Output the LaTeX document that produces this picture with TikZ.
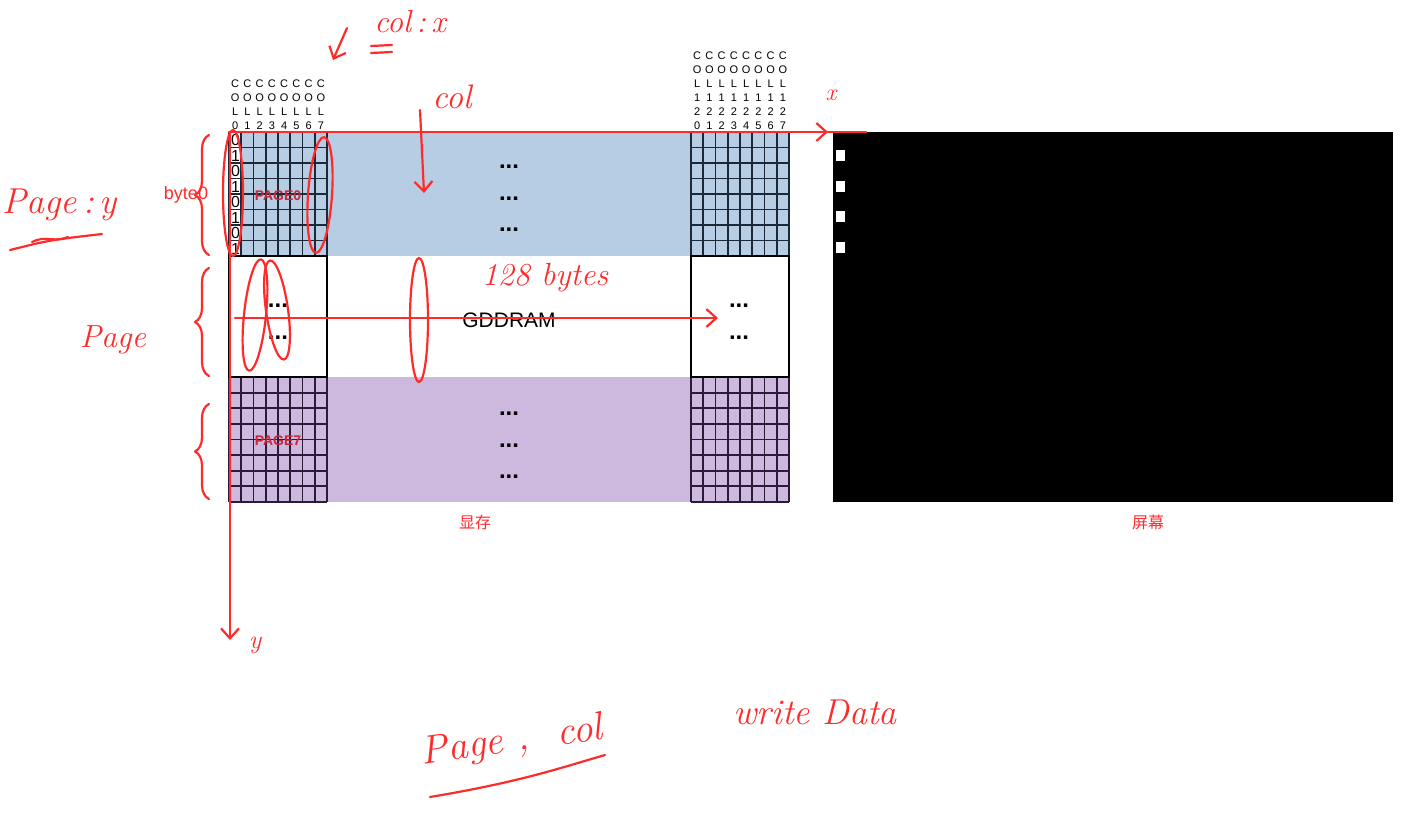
\documentclass[tikz,border=0pt]{standalone}
\usepackage{fontspec}
\setsansfont{Liberation Sans}
\newfontfamily\cjk{Noto Sans CJK SC}
\usetikzlibrary{arrows.meta,decorations.pathreplacing,positioning}
\definecolor{memblue}{HTML}{B7CDE4}
\definecolor{mempurple}{HTML}{CDB8DE}
\definecolor{gridblue}{HTML}{1B2838}
\definecolor{gridpurple}{HTML}{2B1B36}
\definecolor{inkred}{HTML}{FF2B2B}
\definecolor{pagered}{HTML}{C8283C}
\begin{document}
\begin{tikzpicture}[x=0.5pt,y=-0.5pt,>=stealth,
  ink/.style={draw=inkred,line width=1.1pt,line cap=round,line join=round},
  inkarrow/.style={ink,-{Straight Barb[length=5pt,width=9pt]}},
  handtext/.style={text=inkred,font=\itshape\fontsize{16}{16}\selectfont,inner sep=0pt},
  dots/.style={font=\sffamily\bfseries\fontsize{12}{12}\selectfont,inner sep=0pt,anchor=base},
  collabel/.style={font=\sffamily\fontsize{5.5}{7}\selectfont,align=center,inner sep=0pt,anchor=south},
  bit/.style={font=\sffamily\fontsize{8}{8}\selectfont,inner sep=0pt},
  pagelabel/.style={text=pagered,font=\sffamily\bfseries\fontsize{7}{7}\selectfont,inner sep=0pt},
  memtext/.style={text=inkred,font=\cjk\fontsize{8}{8}\selectfont,inner sep=0pt},
  gridline/.style={line width=0.9pt},
  brace/.style={ink,decorate,decoration={brace,amplitude=7pt}}]
\useasboundingbox (0,0) rectangle (1410,831);

% GDDRAM
\fill[memblue] (229,132) rectangle (789,256);
\fill[mempurple] (229,377) rectangle (789,502);
\fill[white] (229,132) rectangle (241.25,256);
\foreach \gx in {229,691}{
  \foreach \i in {0,...,8}{
    \draw[gridline,gridblue] (\gx+\i*12.25,132) -- (\gx+\i*12.25,256);
    \draw[gridline,gridpurple] (\gx+\i*12.25,377) -- (\gx+\i*12.25,502);
    \draw[gridline,gridblue] (\gx,132+\i*15.5) -- (\gx+98,132+\i*15.5);
    \draw[gridline,gridpurple] (\gx,377+\i*15.625) -- (\gx+98,377+\i*15.625);
  }
}
\draw[gridline] (229,256) rectangle (327,377);
\draw[gridline] (691,256) rectangle (789,377);

\foreach \j/\b in {0/0,1/1,2/0,3/1,4/0,5/1,6/0,7/1}
  \node[bit] (bit\j) at (235.5,132+\j*15.5+8) {\b};

\foreach \i in {0,...,7}{
  \node[collabel] (lcol\i) at (229+\i*12.25+6.1,130) {C\\O\\L\\\i};
  \node[collabel] (rcol\i) at (691+\i*12.25+6.1,130) {C\\O\\L\\1\\2\\\i};
}

\node[pagelabel] (page0) at (278,196) {PAGE0};
\node[pagelabel] (page7) at (278,441) {PAGE7};
\node[font=\sffamily\fontsize{10.5}{10.5}\selectfont,inner sep=0pt] (gddram) at (509,320) {GDDRAM};

\foreach \k/\yy in {1/168,2/200,3/231}{
  \node[dots] (topdots\k) at (509,\yy) {...};
  \node[dots] (botdots\k) at (509,\yy+247) {...};
}
\foreach \k/\yy in {1/307,2/339}{
  \node[dots] (ldots\k) at (278,\yy) {...};
  \node[dots] (rdots\k) at (739,\yy) {...};
}
\node[memtext] (memlbl) at (475,522) {显存};

% screen
\node[fill=black,inner sep=0pt,minimum width=280pt,minimum height=185pt,anchor=north west] (screen) at (833,132) {};
\foreach \yy in {150,181,211,242}
  \fill[white] (836,\yy) rectangle (845,\yy+11);
\node[memtext] (screenlbl) at (1148,522) {屏幕};

% annotations
\node[text=inkred,font=\sffamily\fontsize{9}{9}\selectfont,inner sep=0pt] (byte0) at (186,195) {byte0};
\coordinate (org) at (229,132);
\coordinate (xtip) at (828,132);
\coordinate (xend) at (866,132);
\coordinate (ytop) at (230,132);
\coordinate (ytip) at (230,640);
\draw[inkarrow] (org) -- (xtip);
\draw[ink] (xtip) -- (xend);
\draw[inkarrow] (ytop) -- (ytip);
\node[handtext,font=\itshape\fontsize{12}{12}\selectfont] (xlbl) at (831,95) {x};
\node[handtext,font=\itshape\fontsize{13}{13}\selectfont] (ylbl) at (255,645) {y};

\node[handtext] (colx) at (410,22) {col\,:\,x};
\draw[ink] (371,46) -- (392,45) (371,53) -- (392,52);
\coordinate (smalltail) at (347,28);
\coordinate (smalltip) at (333,60);
\draw[inkarrow] (smalltail) -- (smalltip);

\node[handtext,font=\itshape\fontsize{17}{17}\selectfont] (collbl) at (452,97) {col};
\coordinate (coltail) at (420,110);
\coordinate (coltip) at (424,193);
\draw[inkarrow] (coltail) -- (coltip);

\node[handtext,font=\itshape\fontsize{18}{18}\selectfont] (pagey) at (60,205) {Page\,:\,y};
\draw[ink] (10,250) .. controls (50,240) .. (102,234);
\draw[ink] (32,242) .. controls (45,235) and (55,243) .. (68,237);
\node[handtext] (pagelbl) at (113,340) {Page};

\draw[brace] (209,255) -- (209,135);
\draw[brace] (209,376) -- (209,268);
\draw[brace] (209,499) -- (209,404);

\draw[ink] (233,193) ellipse [x radius=10, y radius=63];
\draw[ink,rotate around={-4:(320,195)}] (320,195) ellipse [x radius=12, y radius=58];
\draw[ink,rotate around={-6:(255,315)}] (255,315) ellipse [x radius=11, y radius=56];
\draw[ink,rotate around={8:(277,310)}] (277,310) ellipse [x radius=11, y radius=50];
\draw[ink] (419,320) ellipse [x radius=9, y radius=62];

\coordinate (rowtail) at (235,318);
\coordinate (rowtip) at (718,318);
\draw[inkarrow] (rowtail) -- (rowtip);
\node[handtext] (bytes) at (545,278) {128 bytes};

\node[handtext,font=\itshape\fontsize{20}{20}\selectfont,rotate=8] (pagecol) at (512,742) {Page\ ,\ \ col};
\draw[ink] (430,797) .. controls (520,782) and (560,768) .. (605,755);
\node[handtext,font=\itshape\fontsize{18}{18}\selectfont] (writedata) at (815,712) {write Data};
\end{tikzpicture}
\end{document}
